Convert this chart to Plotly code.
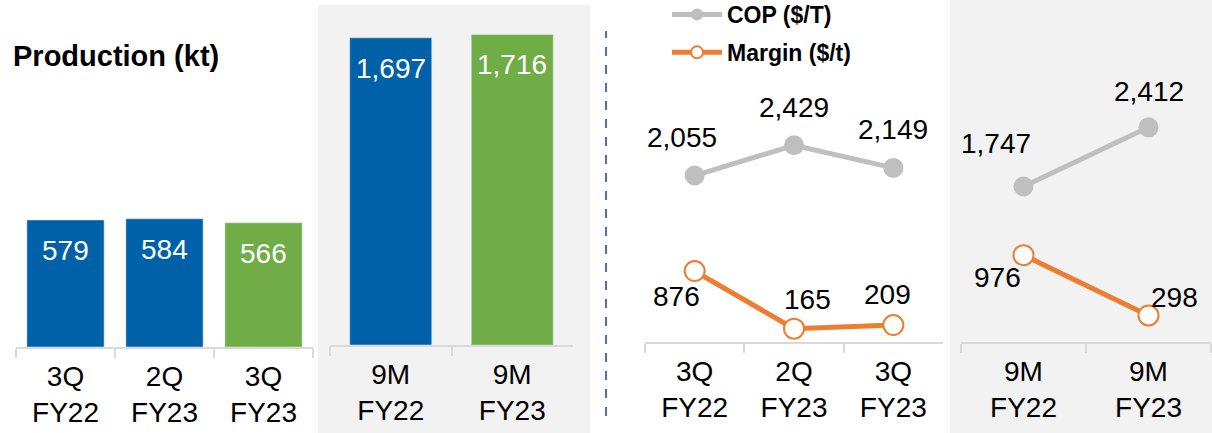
import plotly.graph_objects as go

W, H = 1212, 433

# ---- data ----
q_cats = ["3Q FY22", "2Q FY23", "3Q FY23"]
q_ticks = ["3Q<br>FY22", "2Q<br>FY23", "3Q<br>FY23"]
m_cats = ["9M FY22", "9M FY23"]
m_ticks = ["9M<br>FY22", "9M<br>FY23"]

prod_q = [579, 584, 566]
prod_m = [1697, 1716]
prod_q_colors = ["#0061A8", "#0061A8", "#70AD47"]
prod_m_colors = ["#0061A8", "#70AD47"]

cop_q = [2055, 2429, 2149]
margin_q = [876, 165, 209]
cop_m = [1747, 2412]
margin_m = [976, 298]

FONT = "Liberation Sans, Arial, sans-serif"
GRAY = "#BFBFBF"
ORANGE = "#ED7D31"
AXIS = "#D9D9D9"


def px_x(x):
    return x / W


def px_y(y):
    return 1 - y / H


fig = go.Figure()

# bars
fig.add_trace(go.Bar(x=q_cats, y=prod_q, marker_color=prod_q_colors, xaxis="x", yaxis="y",
                     showlegend=False, hoverinfo="skip", width=0.78))
fig.add_trace(go.Bar(x=m_cats, y=prod_m, marker_color=prod_m_colors, xaxis="x2", yaxis="y2",
                     showlegend=False, hoverinfo="skip", width=0.675))

# lines
fig.add_trace(go.Scatter(x=q_cats, y=cop_q, mode="lines+markers", name="COP ($/T)",
                         legendgroup="cop",
                         line=dict(color=GRAY, width=5), marker=dict(size=20, color=GRAY),
                         xaxis="x3", yaxis="y3", hoverinfo="skip"))
fig.add_trace(go.Scatter(x=q_cats, y=margin_q, mode="lines+markers", name="Margin ($/t)",
                         legendgroup="margin",
                         line=dict(color=ORANGE, width=5),
                         marker=dict(size=20, color="white", line=dict(color=ORANGE, width=2)),
                         xaxis="x3", yaxis="y3", hoverinfo="skip"))
fig.add_trace(go.Scatter(x=m_cats, y=cop_m, mode="lines+markers", showlegend=False,
                         legendgroup="cop",
                         line=dict(color=GRAY, width=5), marker=dict(size=20, color=GRAY),
                         xaxis="x4", yaxis="y4", hoverinfo="skip"))
fig.add_trace(go.Scatter(x=m_cats, y=margin_m, mode="lines+markers", showlegend=False,
                         legendgroup="margin",
                         line=dict(color=ORANGE, width=5),
                         marker=dict(size=20, color="white", line=dict(color=ORANGE, width=2)),
                         xaxis="x4", yaxis="y4", hoverinfo="skip"))

xcommon = dict(type="category", showline=True, linecolor=AXIS, linewidth=2,
               ticks="outside", tickson="boundaries", ticklen=9, tickcolor=AXIS, tickwidth=2,
               ticklabelstandoff=3,
               tickfont=dict(family=FONT, size=28, color="#000000"), showgrid=False,
               zeroline=False, fixedrange=True, automargin=False)
ycommon = dict(visible=False, showgrid=False, zeroline=False, fixedrange=True, automargin=False)

fig.update_layout(
    xaxis=dict(xcommon, domain=[px_x(16), px_x(313)], anchor="y", range=[-0.5, 2.5],
               tickvals=q_cats, ticktext=q_ticks),
    xaxis2=dict(xcommon, domain=[px_x(330), px_x(573)], anchor="y2", range=[-0.5, 1.5],
                tickvals=m_cats, ticktext=m_ticks),
    xaxis3=dict(xcommon, domain=[px_x(645), px_x(943)], anchor="y3", range=[-0.5, 2.5],
                tickvals=q_cats, ticktext=q_ticks),
    xaxis4=dict(xcommon, domain=[px_x(961), px_x(1211)], anchor="y4", range=[-0.5, 1.5],
                tickvals=m_cats, ticktext=m_ticks),
    yaxis=dict(ycommon, domain=[px_y(347), 1], range=[0, 347 / 0.2195]),
    yaxis2=dict(ycommon, domain=[px_y(345), 1], range=[0, 345 / 0.181]),
    yaxis3=dict(ycommon, domain=[px_y(342), 1], range=[0, 342 / 0.081]),
    yaxis4=dict(ycommon, domain=[px_y(342), 1], range=[0, 342 / 0.089]),
)

annotations = []
# bar labels
for c, v in zip(q_cats, prod_q):
    annotations.append(dict(x=c, y=v, xref="x", yref="y", text=f"{v:,}", showarrow=False,
                            yanchor="top", yshift=-13,
                            font=dict(family=FONT, size=28, color="white")))
for c, v in zip(m_cats, prod_m):
    annotations.append(dict(x=c, y=v, xref="x2", yref="y2", text=f"{v:,}", showarrow=False,
                            yanchor="top", yshift=-13,
                            font=dict(family=FONT, size=28, color="white")))

# line labels (offsets in px)
cop_q_off = [(-13, 38), (0, 38), (0, 38)]
mar_q_off = [(-18, -25), (13, 29), (-6, 31)]
cop_m_off = [(-28, 43), (0, 36)]
mar_m_off = [(-26, -22), (26, 18)]
for cats, vals, offs, xr, yr in [
    (q_cats, cop_q, cop_q_off, "x3", "y3"),
    (q_cats, margin_q, mar_q_off, "x3", "y3"),
    (m_cats, cop_m, cop_m_off, "x4", "y4"),
    (m_cats, margin_m, mar_m_off, "x4", "y4"),
]:
    for c, v, (dx, dy) in zip(cats, vals, offs):
        annotations.append(dict(x=c, y=v, xref=xr, yref=yr, text=f"{v:,}", showarrow=False,
                                xanchor="center", yanchor="middle", xshift=dx, yshift=dy,
                                font=dict(family=FONT, size=28, color="#000000")))

# title
annotations.append(dict(x=px_x(11), y=px_y(56), xref="paper", yref="paper",
                        text="<b>Production (kt)</b>", showarrow=False, xanchor="left",
                        yanchor="middle", font=dict(family=FONT, size=29, color="#000000")))

shapes = [
    dict(type="rect", xref="paper", yref="paper", x0=px_x(318), x1=px_x(590),
         y0=0, y1=px_y(5), fillcolor="#F2F2F2", line_width=0, layer="below"),
    dict(type="rect", xref="paper", yref="paper", x0=px_x(950), x1=1,
         y0=0, y1=1, fillcolor="#F2F2F2", line_width=0, layer="below"),
    dict(type="line", xref="paper", yref="paper", x0=px_x(606), x1=px_x(606),
         y0=px_y(416), y1=px_y(31), line=dict(color="#4472C4", width=2, dash="dash")),
]

fig.update_layout(
    width=W, height=H, margin=dict(l=0, r=0, t=0, b=0, autoexpand=False),
    paper_bgcolor="white", plot_bgcolor="rgba(0,0,0,0)",
    annotations=annotations, shapes=shapes,
    showlegend=True,
    legend=dict(x=px_x(667), y=px_y(-7), xanchor="left", yanchor="top", orientation="v",
                itemsizing="constant", itemwidth=50, bgcolor="rgba(0,0,0,0)",
                traceorder="grouped", tracegroupgap=5,
                font=dict(family=FONT, size=23, color="#000000", weight="bold")),
    font=dict(family=FONT),
)

fig.write_html(
    "out.html",
    config={"displayModeBar": False},
    post_script="document.body.style.margin='0';document.body.style.overflow='hidden';",
)
